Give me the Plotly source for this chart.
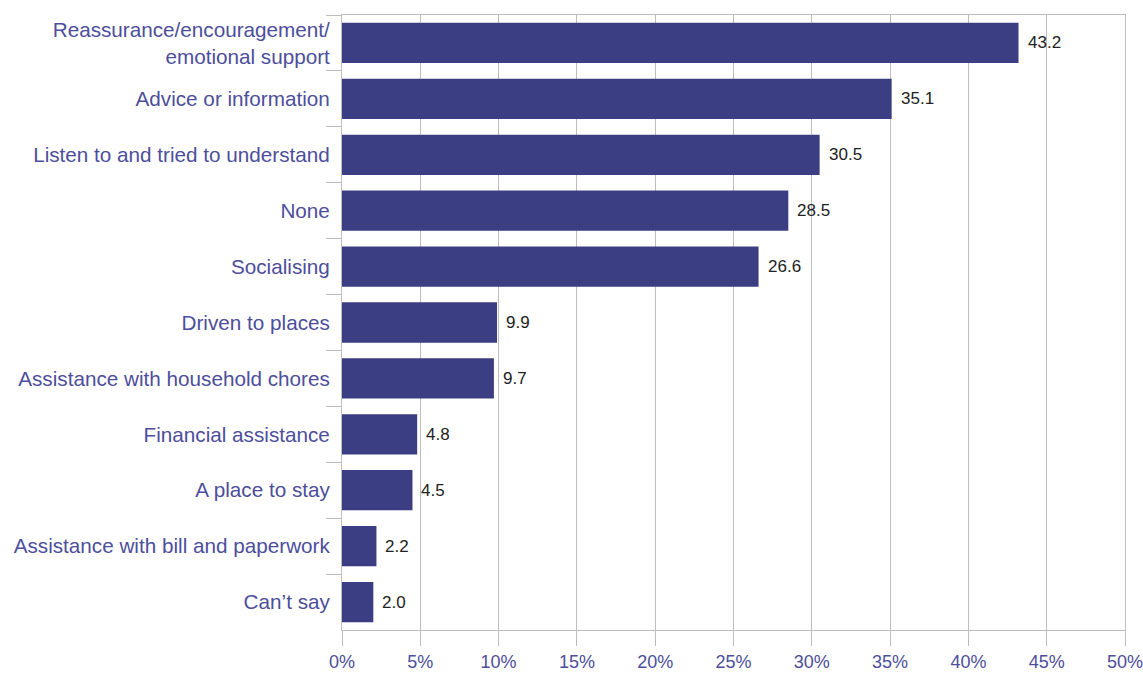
import plotly.graph_objects as go

# Support received, percent of respondents
categories = [
    "Reassurance/encouragement/<br>emotional support",
    "Advice or information",
    "Listen to and tried to understand",
    "None",
    "Socialising",
    "Driven to places",
    "Assistance with household chores",
    "Financial assistance",
    "A place to stay",
    "Assistance with bill and paperwork",
    "Can\u2019t say",
]
values = [43.2, 35.1, 30.5, 28.5, 26.6, 9.9, 9.7, 4.8, 4.5, 2.2, 2.0]
x_ticks = [0, 5, 10, 15, 20, 25, 30, 35, 40, 45, 50]
x_tick_labels = [f"{t}%" for t in x_ticks]

BAR = "#3b3e82"
LABEL = "#4d4e9c"
GRID = "#bdbdbd"
FONT = "Liberation Sans, Arial, sans-serif"

fig = go.Figure(
    go.Bar(
        x=values,
        y=categories,
        orientation="h",
        marker=dict(color=BAR, line=dict(width=0)),
        width=0.72,
        hoverinfo="skip",
    )
)

# value labels beside each bar
for cat, v in zip(categories, values):
    fig.add_annotation(
        x=v, y=cat, text=f"{v:.1f}", showarrow=False,
        xanchor="left", yanchor="middle", xshift=7,
        font=dict(family=FONT, size=17, color="#222222"),
    )

fig.update_layout(
    width=1143, height=673,
    margin=dict(l=342, r=18, t=15, b=43),
    paper_bgcolor="white", plot_bgcolor="white",
    showlegend=False,
    font=dict(family=FONT),
)
fig.update_xaxes(
    range=[0, 50.0001], tickvals=x_ticks, ticktext=x_tick_labels,
    showgrid=True, gridcolor=GRID, gridwidth=1,
    showline=True, linecolor=GRID, linewidth=1, mirror=True,
    ticks="outside", ticklen=15, tickcolor=GRID,
    ticklabeloverflow="allow",
    tickfont=dict(family=FONT, size=18, color=LABEL),
    zeroline=False, fixedrange=True, automargin=False,
)
fig.update_yaxes(
    categoryorder="array", categoryarray=categories,
    autorange="reversed",
    showgrid=False, showline=True, linecolor=GRID, linewidth=1, mirror=True,
    ticks="outside", ticklen=15, tickcolor=GRID, tickson="boundaries",
    ticklabelstandoff=7,
    tickfont=dict(family=FONT, size=20.7, color=LABEL),
    zeroline=False, fixedrange=True, automargin=False,
)

fig.write_html("out.html")
